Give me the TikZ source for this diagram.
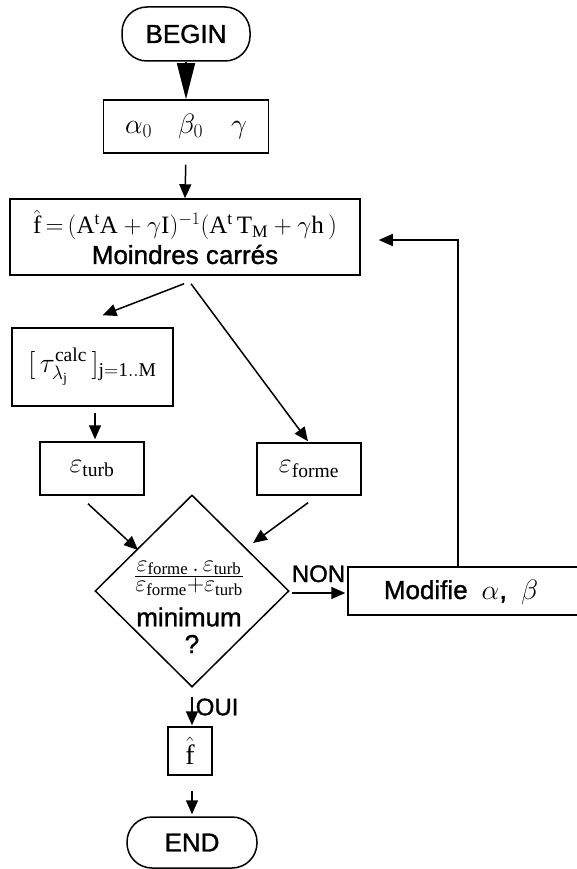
\RequirePackage{fix-cm}
\documentclass[tikz,border=0pt]{standalone}
\usepackage{amsmath}
\usepackage{fontspec}
\setmainfont{Liberation Serif}
\setsansfont{Liberation Sans}[FakeBold=1.2]
\setmathrm{Liberation Serif}
\usetikzlibrary{arrows.meta,shapes.geometric,calc}
\tikzset{
  box/.style={draw, line width=1.5pt, inner sep=0pt},
  term/.style={draw, line width=1.5pt, rounded corners=25pt, inner sep=0pt},
  arr/.style={line width=1.5pt, -{Triangle[length=14pt,width=12pt]}},
  sans/.style={font=\sffamily\fontsize{26}{30}\selectfont},
  mth/.style={font=\fontsize{28}{32}\selectfont},
  lbl/.style={inner sep=0pt, font=\sffamily\fontsize{24}{26}\selectfont},
  txt/.style={inner sep=0pt}
}
\begin{document}
\begin{tikzpicture}[x=1pt,y=-1pt]
\useasboundingbox (0,0) rectangle (576,869);
% nodes
\node[term, sans, minimum width=128pt, minimum height=54pt] (begin) at (186,34) {BEGIN};
\node[box, mth, minimum width=165pt, minimum height=53pt] (init) at (186,126.5) {$\alpha_0\hspace{26pt}\beta_0\hspace{28pt}\gamma$};
\node[box, minimum width=350pt, minimum height=76pt, align=center, font=\fontsize{25}{30}\selectfont] (ls) at (185,237)
  {$\hat{\mathrm{f}}\,{=}\,(\mathrm{A}^{\mathrm{t}}\mathrm{A}+\gamma\mathrm{I})^{-1}(\mathrm{A}^{\mathrm{t}}\,\mathrm{T}_{\mathrm{M}}+\gamma\mathrm{h}\,)$\\
   \sffamily\fontsize{26}{30}\selectfont Moindres carrés};
\node[box, mth, minimum width=161pt, minimum height=78pt] (tau) at (92.5,367) {$[\,\tau^{\mathrm{calc}}_{\lambda_{\mathrm{j}}}\,]_{\mathrm{j=1..M}}$};
\node[box, mth, minimum width=104pt, minimum height=53pt] (eturb) at (92,468.5) {$\varepsilon_{\mathrm{turb}}$};
\node[box, mth, minimum width=104pt, minimum height=52pt] (eforme) at (309,469) {$\varepsilon_{\mathrm{forme}}$};
\node[diamond, draw, line width=1.5pt, minimum width=194pt, minimum height=192pt, inner sep=0pt] (dec) at (192,591) {};
\node[txt, font=\fontsize{24}{26}\selectfont] (decfrac) at (189,578)
  {$\frac{\textstyle\varepsilon_{\mathrm{forme}}\,.\,\varepsilon_{\mathrm{turb}}}{\textstyle\varepsilon_{\mathrm{forme}}{+}\varepsilon_{\mathrm{turb}}}$};
\node[txt, sans] (decmin) at (189,617) {minimum};
\node[txt, sans] (decq) at (192,644) {?};
\node[box, minimum width=232pt, minimum height=48pt] (modif) at (464,591) {};
\node[sans, inner sep=0pt] (modiftxt) at (461,592) {Modifie\hspace{14pt}\fontsize{28}{30}\selectfont$\alpha$,\hspace{14pt}$\beta$};
\node[box, font=\fontsize{28}{30}\selectfont, minimum width=44pt, minimum height=48pt] (fhat) at (190,751) {$\hat{\mathrm{f}}$};
\node[term, sans, minimum width=130pt, minimum height=51pt] (end) at (192,842.5) {END};
% connectors
\draw[line width=1.5pt, -{Triangle[length=36pt,width=18pt]}] (begin.south) -- (init.north);
\draw[arr, shorten <=11pt] (init.south) -- (ls.north);
\draw[arr] ($(ls.south)+(-1,8)$) -- ($(tau.north)+(10,-12)$);
\draw[arr] ($(ls.south)+(6,8)$) -- ($(eforme.north)+(-1,-1)$);
\draw[arr] ($(tau.south)+(2.5,6)$) -- ($(eturb.north)+(3,-2)$);
\draw[arr] ($(eturb.south)+(-4,8)$) -- ($(dec.center)+(-54,-41)$);
\draw[arr] ($(eforme.south)+(-1,7)$) -- ($(dec.center)+(61,-48)$);
\draw[arr] ($(dec.east)+(2,2)$) -- node[lbl, above=10pt] (non) {NON} ($(modif.west)+(-2,2)$);
\draw[arr] ($(modif.north)+(-6,0)$) |- ($(ls.east)+(18,3)$);
\draw[arr] ($(dec.south)+(0,9)$) -- node[lbl, right=3pt, yshift=4pt] (oui) {OUI} ($(fhat.north)+(2,-1)$);
\draw[arr] ($(fhat.south)+(2,15)$) -- ($(end.north)+(0,-2)$);
\end{tikzpicture}
\end{document}
